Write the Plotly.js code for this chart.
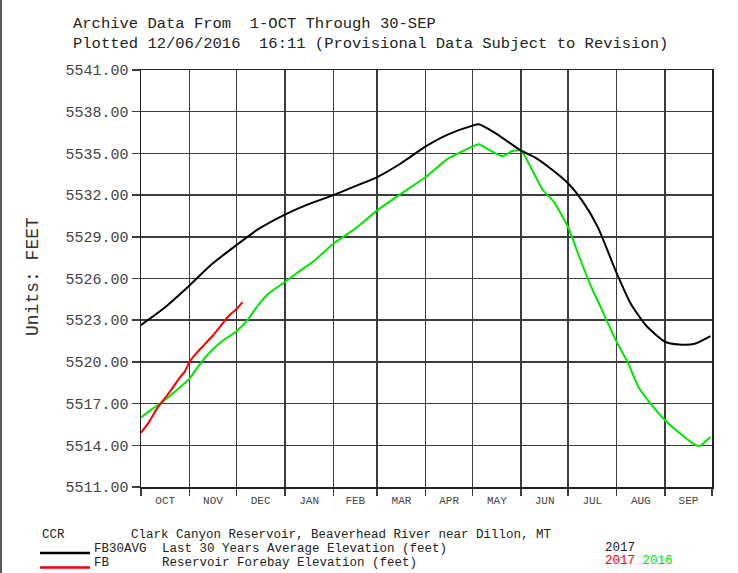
<!DOCTYPE html>
<html>
<head>
<meta charset="utf-8">
<script src="https://cdn.plot.ly/plotly-3.0.1.min.js"></script>
<style>
html,body{margin:0;padding:0;background:#fff;}
#chart{width:738px;height:573px;}
</style>
</head>
<body>
<div id="chart"></div>
<script>
// ---- data ----
const monthStarts = ['2016-10-01','2016-11-01','2016-12-01','2017-01-01','2017-02-01','2017-03-01',
  '2017-04-01','2017-05-01','2017-06-01','2017-07-01','2017-08-01','2017-09-01','2017-10-01'];
const monthLabels = ['OCT','NOV','DEC','JAN','FEB','MAR','APR','MAY','JUN','JUL','AUG','SEP'];
const yTicks = [5511,5514,5517,5520,5523,5526,5529,5532,5535,5538,5541];

// FB30AVG: Last 30 years average elevation (feet)
const avgDates = ['2016-10-01','2016-10-15','2016-11-01','2016-11-15','2016-12-01','2016-12-15',
  '2017-01-01','2017-01-15','2017-02-01','2017-02-15','2017-03-01','2017-03-15','2017-04-01',
  '2017-04-15','2017-05-01','2017-05-05','2017-05-15','2017-06-01','2017-06-10','2017-06-20',
  '2017-07-01','2017-07-10','2017-07-20','2017-08-01','2017-08-10','2017-08-20','2017-09-01',
  '2017-09-10','2017-09-20','2017-09-30'];
const avgValues = [5522.65,5523.8,5525.5,5527.0,5528.4,5529.55,
  5530.6,5531.3,5532.0,5532.65,5533.3,5534.2,5535.5,
  5536.35,5537.0,5537.1,5536.5,5535.2,5534.7,5533.9,
  5532.85,5531.6,5529.7,5526.4,5524.2,5522.6,5521.45,
  5521.25,5521.3,5521.85];

// FB 2016: reservoir forebay elevation (feet)
const fb2016Dates = ['2016-10-01','2016-10-08','2016-10-15','2016-10-22','2016-11-01','2016-11-08',
  '2016-11-15','2016-11-22','2016-12-01','2016-12-08','2016-12-15','2016-12-22','2017-01-01',
  '2017-01-10','2017-01-20','2017-02-01','2017-02-15','2017-03-01','2017-03-15','2017-04-01',
  '2017-04-15','2017-05-01','2017-05-05','2017-05-10','2017-05-20','2017-05-26','2017-06-01',
  '2017-06-08','2017-06-15','2017-06-22','2017-07-01','2017-07-08','2017-07-15','2017-07-22',
  '2017-08-01','2017-08-08','2017-08-15','2017-08-22','2017-09-01','2017-09-10','2017-09-20',
  '2017-09-23','2017-09-30'];
const fb2016Values = [5516.0,5516.6,5517.15,5517.8,5518.8,5519.9,
  5520.8,5521.5,5522.2,5523.0,5524.1,5524.95,5525.75,
  5526.5,5527.3,5528.5,5529.6,5530.9,5532.0,5533.3,
  5534.6,5535.5,5535.65,5535.35,5534.8,5535.15,5535.2,
  5533.8,5532.35,5531.5,5529.7,5527.6,5525.6,5523.9,
  5521.45,5520.0,5518.2,5517.1,5515.8,5514.9,5514.05,
  5513.95,5514.6];

// FB 2017: reservoir forebay elevation (feet)
const fb2017Dates = ['2016-10-01','2016-10-06','2016-10-11','2016-10-16','2016-10-21','2016-10-26',
  '2016-10-29','2016-11-01','2016-11-06','2016-11-11','2016-11-16','2016-11-21','2016-11-26',
  '2016-12-01','2016-12-05'];
const fb2017Values = [5514.9,5515.65,5516.6,5517.35,5518.1,5518.9,
  5519.3,5520.0,5520.7,5521.3,5521.9,5522.6,5523.3,
  5523.8,5524.3];

// ---- texts ----
const titleLines = ['Archive Data From\u00a0\u00a01-OCT Through 30-SEP',
  'Plotted 12/06/2016\u00a0\u00a016:11 (Provisional Data Subject to Revision)'];
const unitsLabel = 'Units:\u00a0FEET';
const siteCode = 'CCR';
const siteName = 'Clark Canyon Reservoir, Beaverhead River near Dillon, MT';
const seriesCodes = ['FB30AVG','FB'];
const seriesNames = ['Last 30 Years Average Elevation (feet)','Reservoir Forebay Elevation (feet)'];
const yearsAvg = ['2017'];
const yearsFb = ['2017','2016'];

// ---- geometry helpers (layout only) ----
const W = 738, H = 573, ML = 141, MR = 26, MT = 70, MB = 86;
const PW = W - ML - MR, PH = H - MT - MB;
const px = x => (x - ML) / PW;          // pixel -> paper x
const py = y => (H - MB - y) / PH;      // pixel -> paper y

const mono = 'Liberation Mono, Courier New, monospace';
const GREEN = '#00e600', RED = '#ff0000', BLACK = '#000000';

const midMonths = [];
for (let i = 0; i < monthLabels.length; i++) {
  const a = new Date(monthStarts[i] + 'T00:00:00Z').getTime();
  const b = new Date(monthStarts[i+1] + 'T00:00:00Z').getTime();
  midMonths.push(new Date((a + b) / 2).toISOString().slice(0,19).replace('T',' '));
}

const traces = [
  {x: fb2016Dates, y: fb2016Values, type: 'scatter', mode: 'lines', xaxis: 'x', yaxis: 'y',
   line: {color: GREEN, width: 2, shape: 'spline', smoothing: 0.5}, hoverinfo: 'skip'},
  {x: avgDates, y: avgValues, type: 'scatter', mode: 'lines', xaxis: 'x2', yaxis: 'y',
   line: {color: BLACK, width: 2, shape: 'spline', smoothing: 0.6}, hoverinfo: 'skip'},
  {x: fb2017Dates, y: fb2017Values, type: 'scatter', mode: 'lines', xaxis: 'x', yaxis: 'y',
   line: {color: RED, width: 2, shape: 'spline', smoothing: 0.4}, hoverinfo: 'skip'}
];

const gridCol = '#3c3c3c';
const txtFont = {family: mono, size: 12.5, color: '#222'};
const annotations = [
  {text: unitsLabel, xref: 'paper', yref: 'paper', x: px(33), y: py(277), textangle: -90,
   showarrow: false, xanchor: 'center', yanchor: 'middle', font: {family: mono, size: 18, color: '#333'}},
  {text: siteCode, xref: 'paper', yref: 'paper', x: px(40), y: py(535), xanchor: 'left', yanchor: 'middle',
   showarrow: false, font: txtFont},
  {text: siteName, xref: 'paper', yref: 'paper', x: px(129), y: py(535), xanchor: 'left', yanchor: 'middle',
   showarrow: false, font: txtFont},
  {text: seriesCodes[0], xref: 'paper', yref: 'paper', x: px(92), y: py(549), xanchor: 'left', yanchor: 'middle',
   showarrow: false, font: txtFont},
  {text: seriesNames[0], xref: 'paper', yref: 'paper', x: px(160), y: py(549), xanchor: 'left', yanchor: 'middle',
   showarrow: false, font: txtFont},
  {text: seriesCodes[1], xref: 'paper', yref: 'paper', x: px(92), y: py(563), xanchor: 'left', yanchor: 'middle',
   showarrow: false, font: txtFont},
  {text: seriesNames[1], xref: 'paper', yref: 'paper', x: px(160), y: py(563), xanchor: 'left', yanchor: 'middle',
   showarrow: false, font: txtFont},
  {text: yearsAvg[0], xref: 'paper', yref: 'paper', x: px(603), y: py(548), xanchor: 'left', yanchor: 'middle',
   showarrow: false, font: txtFont},
  {text: '<span style="color:' + RED + '">' + yearsFb[0] + '</span>\u00a0<span style="color:' + GREEN + '">' + yearsFb[1] + '</span>',
   xref: 'paper', yref: 'paper', x: px(603), y: py(561), xanchor: 'left', yanchor: 'middle',
   showarrow: false, font: {family: mono, size: 12.5, color: RED}}
];

const shapes = [
  {type: 'line', xref: 'paper', yref: 'paper', x0: px(40), x1: px(90), y0: py(553), y1: py(553),
   line: {color: BLACK, width: 2.5}},
  {type: 'line', xref: 'paper', yref: 'paper', x0: px(40), x1: px(90), y0: py(567.5), y1: py(567.5),
   line: {color: RED, width: 2.5}},
  {type: 'line', xref: 'paper', yref: 'paper', x0: px(1), x1: px(1), y0: py(0), y1: py(573),
   line: {color: '#222', width: 1.5}}
];

const layout = {
  width: W, height: H,
  margin: {l: ML, r: MR, t: MT, b: MB, pad: 0},
  paper_bgcolor: '#ffffff', plot_bgcolor: '#ffffff',
  showlegend: false,
  title: {text: titleLines.join('<br>'), xref: 'container', yref: 'container',
          x: 73 / W, xanchor: 'left', y: 1 - 28 / H, yanchor: 'top',
          font: {family: mono, size: 15.5, color: '#222'}},
  xaxis: {type: 'date', range: [monthStarts[0], monthStarts[monthStarts.length-1]],
          tickmode: 'array', tickvals: monthStarts, showticklabels: false,
          ticks: 'outside', ticklen: 7, tickwidth: 1.5, tickcolor: gridCol,
          showgrid: true, gridcolor: gridCol, gridwidth: 1.5,
          showline: true, linecolor: '#222', linewidth: 1.5, mirror: true,
          zeroline: false, fixedrange: true},
  xaxis2: {type: 'date', overlaying: 'x', anchor: 'y', side: 'bottom',
           range: [monthStarts[0], monthStarts[monthStarts.length-1]],
           tickmode: 'array', tickvals: midMonths, ticktext: monthLabels,
           ticks: '', showgrid: false, showline: false, zeroline: false,
           ticklabelstandoff: 5,
           tickfont: {family: mono, size: 11, color: '#444'}, fixedrange: true},
  yaxis: {range: [yTicks[0], yTicks[yTicks.length-1]], tickmode: 'array', tickvals: yTicks,
          tickformat: '.2f', ticks: 'outside', ticklen: 8, tickwidth: 1.5, tickcolor: gridCol,
          showgrid: true, gridcolor: gridCol, gridwidth: 1.5,
          showline: true, linecolor: '#222', linewidth: 1.5, mirror: true,
          zeroline: false, fixedrange: true,
          tickfont: {family: mono, size: 15, color: '#444'}},
  annotations: annotations,
  shapes: shapes
};

Plotly.newPlot('chart', traces, layout, {staticPlot: true, displayModeBar: false});
</script>
</body>
</html>
